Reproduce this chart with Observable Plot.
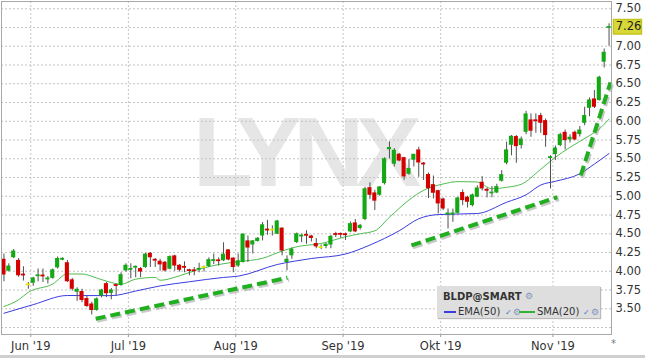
<!DOCTYPE html>
<html><head><meta charset="utf-8">
<script src="https://cdn.jsdelivr.net/npm/d3@7"></script>
<script src="https://cdn.jsdelivr.net/npm/@observablehq/plot@0.6"></script>
<style>
body{margin:0;background:#fff;font-family:"DejaVu Sans",sans-serif;}
#wrap{position:relative;width:645px;height:358px;overflow:hidden;background:#fff;}
#wm{position:absolute;left:193px;top:103px;font:bold 98px "Liberation Sans",Arial,sans-serif;line-height:98px;letter-spacing:-8px;color:#e6e6e6;white-space:nowrap;z-index:0;}
#chart{position:absolute;left:0;top:0;z-index:1;}
#legend{position:absolute;left:437px;top:286px;width:163px;height:32px;background:#dedede;box-shadow:1px 1px 1px #b8b8b8;z-index:2;}
#legend span,#legend i{position:absolute;white-space:nowrap;font-size:10px;line-height:10px;color:#333;font-style:normal;}
#legend .ln{height:1.5px;}
#legend .ck{color:#3f74cf;font-size:8px;}
#legend .gr{color:#8496bb;font-size:9px;}
#gear{position:absolute;left:611px;top:338px;font-size:10px;color:#777;z-index:2;}
#scroll{position:absolute;left:0;top:355px;width:645px;height:3px;background:#cfcfcf;z-index:2;}
</style>
</head><body>
<div id="wrap">
  <div id="wm">LYNX</div>
  <div id="chart"></div>
  <div id="legend"></div>
  <div id="gear">*</div>
  <div id="scroll"></div>
</div>
<script>
// ---- data (index 0 = first trading day shown, ~23 May 2019) ----
const opens  = [4.16,4.00,4.18,4.145,3.96,3.82,3.84,3.93,3.945,3.89,3.905,4.045,4.15,4.114,3.886,3.72,3.73,3.636,3.564,3.477,
3.67,3.835,3.705,3.82,3.81,4.005,4.014,4.045,4.036,4.05,4.24,4.16,4.134,4.12,4.027,4.205,4.08,4.06,4.018,4.013,
4.018,4.05,4.063,4.13,4.15,4.14,4.285,4.175,4.07,4.117,4.405,4.35,4.397,4.47,4.56,4.55,4.494,4.575,4.117,4.206,
4.383,4.46,4.49,4.47,4.37,4.316,4.33,4.35,4.50,4.50,4.50,4.525,4.645,4.57,4.69,5.115,5.045,5.013,5.17,5.62,
5.427,5.56,5.515,5.293,5.48,5.618,5.44,5.29,5.155,5.075,4.964,4.756,4.756,4.773,5.05,4.987,4.875,4.987,5.187,5.093,
5.04,5.044,5.20,5.44,5.68,5.796,5.676,5.853,6.018,6.018,6.076,6.009,5.51,5.556,5.676,5.853,5.751,5.853,5.822,5.973,
6.173,6.298,6.276,6.787,7.24];
const highs  = [4.23,4.10,4.29,4.17,4.06,3.85,3.92,4.03,4.03,3.93,4.03,4.19,4.18,4.145,3.905,3.78,3.76,3.668,3.586,3.645,
3.76,3.85,3.77,3.83,3.98,4.10,4.10,4.07,4.05,4.24,4.25,4.17,4.16,4.13,4.205,4.214,4.09,4.125,4.027,4.05,
4.107,4.07,4.18,4.23,4.18,4.38,4.29,4.18,4.23,4.50,4.47,4.41,4.45,4.65,4.68,4.605,4.68,4.58,4.206,4.31,
4.51,4.494,4.54,4.48,4.435,4.35,4.37,4.48,4.52,4.51,4.51,4.657,4.69,4.623,5.12,5.18,5.08,5.13,5.513,5.725,
5.635,5.57,5.52,5.49,5.54,5.653,5.45,5.31,5.27,5.08,4.975,4.83,4.83,4.987,5.084,5.00,5.03,5.14,5.262,5.11,
5.13,5.16,5.342,5.72,5.81,5.81,5.79,6.133,6.098,6.098,6.106,6.03,5.54,5.67,5.84,5.884,5.82,5.87,5.93,6.187,
6.311,6.409,6.60,6.964,7.30];
const lows   = [3.86,3.99,4.17,3.92,3.87,3.76,3.80,3.86,3.85,3.83,3.895,4.03,4.14,3.85,3.736,3.60,3.58,3.518,3.418,3.468,
3.645,3.65,3.62,3.67,3.80,3.99,3.90,3.915,3.915,4.04,4.05,4.05,4.00,3.99,4.02,4.00,3.99,3.98,3.94,3.94,
3.98,3.99,4.05,4.09,4.07,4.13,4.14,3.98,4.05,4.11,4.117,4.23,4.39,4.405,4.48,4.47,4.49,4.206,4.006,4.16,
4.37,4.383,4.36,4.39,4.30,4.29,4.30,4.30,4.45,4.44,4.41,4.515,4.515,4.55,4.675,4.955,4.81,5.00,5.15,5.50,
5.39,5.46,5.213,5.28,5.39,5.253,5.21,4.97,4.965,4.764,4.81,4.564,4.653,4.76,4.875,4.844,4.86,4.98,5.07,4.978,
4.98,5.035,5.19,5.42,5.54,5.44,5.63,5.82,5.787,5.84,5.84,5.653,5.098,5.476,5.66,5.618,5.71,5.74,5.79,5.94,
6.062,6.17,6.27,6.711,7.00];
const closes = [3.95,4.07,4.27,3.94,3.94,3.82,3.91,3.95,3.93,3.905,4.02,4.17,4.17,3.86,3.76,3.76,3.61,3.53,3.477,3.632,
3.75,3.70,3.75,3.80,3.955,4.08,4.036,4.063,3.99,4.228,4.18,4.135,4.085,4.005,4.196,4.07,4.013,4.045,4.00,4.00,
4.036,4.05,4.155,4.155,4.13,4.228,4.15,4.05,4.14,4.495,4.31,4.405,4.44,4.62,4.54,4.55,4.67,4.27,4.16,4.294,
4.50,4.48,4.47,4.437,4.325,4.316,4.36,4.466,4.48,4.485,4.475,4.635,4.525,4.613,5.10,5.013,4.935,5.125,5.50,5.65,
5.613,5.47,5.258,5.37,5.56,5.444,5.42,5.10,5.04,4.898,4.83,4.773,4.773,4.978,4.942,4.92,5.018,5.111,5.098,5.067,
5.048,5.129,5.289,5.618,5.80,5.662,5.764,6.098,5.867,5.996,5.973,5.809,5.52,5.644,5.822,5.742,5.787,5.751,5.884,6.076,
6.284,6.187,6.587,6.92,7.26];

// moving averages (index, value)
const emaIdx = [0,6,13,22,27,32,38,45,48,56,63,70,75,81,85,89,97,103,107,110,113,118,121,124];
const emaVal = [3.44,3.555,3.677,3.675,3.736,3.805,3.86,3.918,3.935,4.09,4.17,4.23,4.35,4.54,4.70,4.756,4.77,4.92,5.02,5.15,5.20,5.30,5.43,5.57];
const smaIdx = [0,3,5,10,13,16,19,22,24,27,31,32,36,40,44,48,53,57,60,65,70,73,76,79,83,86,90,93,97,100,103,106,110,113,116,120,122,124];
const smaVal = [3.53,3.62,3.72,3.83,3.964,3.964,3.91,3.85,3.827,3.895,3.918,3.88,3.94,4.027,4.09,4.128,4.173,4.27,4.327,4.37,4.46,4.50,4.54,4.72,4.95,5.08,5.164,5.195,5.19,5.10,5.12,5.16,5.36,5.52,5.653,5.81,5.898,6.03];

// hand-drawn trend lines (index, price)
const trendX1 = [18.8, 83.5, 118.2];
const trendY1 = [3.367, 4.344, 5.277];
const trendX2 = [58.1, 113.4, 124.3];
const trendY2 = [3.913, 4.988, 6.52];

// axes
const monthTicks  = [5.5, 25.5, 47.5, 69.5, 89.5, 112.5];
const monthLabels = ["Jun '19","Jul '19","Aug '19","Sep '19","Okt '19","Nov '19"];
const priceGrid   = [3.25,3.5,3.75,4.0,4.25,4.5,4.75,5.0,5.25,5.5,5.75,6.0,6.25,6.5,6.75,7.0,7.25,7.5];
const priceLabels = [3.5,3.75,4.0,4.25,4.5,4.75,5.0,5.25,5.5,5.75,6.0,6.25,6.5,6.75,7.0,7.5];

// ---- build tables ----
const UP = "#14a814", DOWN = "#d40000", FLAT = "#e6e600";
const candles = closes.map((c, i) => {
  const o = opens[i];
  let lo = Math.min(o, c), hi = Math.max(o, c);
  if (hi - lo < 0.024) { const m = (hi + lo) / 2; lo = m - 0.012; hi = m + 0.012; }
  return {i, o, h: highs[i], l: lows[i], c, lo, hi, col: c > o ? UP : c < o ? DOWN : FLAT};
});
const ema = emaIdx.map((x, k) => ({x, y: emaVal[k]}));
const sma = smaIdx.map((x, k) => ({x, y: smaVal[k]}));
const trends = trendX1.map((x1, k) => ({x1, y1: trendY1[k], x2: trendX2[k], y2: trendY2[k]}));
const last = candles[candles.length - 1];

const boxSymbol = {draw(ctx) { ctx.moveTo(-14, -7.2); ctx.lineTo(14, -7.2); ctx.lineTo(14, 7.2); ctx.lineTo(-14, 7.2); ctx.closePath(); }};

const gridStyle = {stroke: "#c4c4c4", strokeDasharray: "2,2", strokeWidth: 1};

const chart = Plot.plot({
  width: 645, height: 358,
  marginLeft: 1, marginRight: 34, marginTop: 1, marginBottom: 24,
  style: {fontFamily: "DejaVu Sans", fontSize: "11.5px", color: "#333", background: "transparent", overflow: "visible"},
  x: {type: "linear", domain: [-0.5, 124.5]},
  y: {type: "linear", domain: [3.157, 7.597]},
  color: {type: "identity"},
  marks: [
    Plot.ruleY(priceGrid, gridStyle),
    Plot.ruleX(monthTicks, gridStyle),
    Plot.axisX(monthTicks, {tickFormat: d => monthLabels[monthTicks.indexOf(d)], tickSize: 3, tickPadding: 4, stroke: "#999", label: null}),
    Plot.axisY(priceLabels, {anchor: "right", tickSize: 0, tickPadding: 4, tickFormat: d => d.toFixed(2), label: null}),
    Plot.line(sma, {x: "x", y: "y", stroke: "#4dbd4d", strokeWidth: 1, curve: "monotone-x"}),
    Plot.line(ema, {x: "x", y: "y", stroke: "#3c3ce0", strokeWidth: 1, curve: "monotone-x"}),
    Plot.ruleX(candles, {x: "i", y1: "l", y2: "h", stroke: "#505050", strokeWidth: 1}),
    Plot.rect(candles, {x1: d => d.i - 0.42, x2: d => d.i + 0.42, y1: "lo", y2: "hi", fill: "col"}),
    Plot.link(trends, {x1: "x1", y1: "y1", x2: "x2", y2: "y2", stroke: "#888", strokeOpacity: 0.45, strokeWidth: 4, strokeDasharray: "10,5", dx: 1.5, dy: 2}),
    Plot.link(trends, {x1: "x1", y1: "y1", x2: "x2", y2: "y2", stroke: "#1faf1f", strokeWidth: 4, strokeDasharray: "10,5"}),
    Plot.frame({stroke: "#a8a8a8"}),
    Plot.dot([last], {x: "i", y: "c", symbol: boxSymbol, r: 8, fill: "#d8d838", stroke: "#c4c420", dx: 18.4}),
    Plot.text([last], {x: "i", y: "c", text: d => d.c.toFixed(2), textAnchor: "start", dx: 6.7, fill: "#222", fontSize: 11.5})
  ]
});
document.getElementById("chart").appendChild(chart);

// ---- legend ----
const lg = document.getElementById("legend");
const ox = 437, oy = 286;
function put(tag, cls, text, x, y, extra) {
  const e = document.createElement(tag);
  if (cls) e.className = cls;
  if (text) e.textContent = text;
  e.style.left = (x - ox) + "px"; e.style.top = (y - oy) + "px";
  if (extra) Object.assign(e.style, extra);
  lg.appendChild(e);
}
put("span", "", "BLDP@SMART", 443, 291.5, {fontWeight: "bold"});
put("span", "gr", "⚙", 525, 291);
put("span", "ln", "", 444, 311, {width: "12px", background: "#3c3ce0"});
put("span", "", "EMA(50)", 458, 307);
put("span", "ck", "✓", 505, 308);
put("span", "gr", "⚙", 513, 307);
put("span", "ln", "", 519, 311, {width: "16px", background: "#36b036"});
put("span", "", "SMA(20)", 537, 307);
put("span", "ck", "✓", 583, 308);
put("span", "gr", "⚙", 591, 307);
</script>
</body></html>
